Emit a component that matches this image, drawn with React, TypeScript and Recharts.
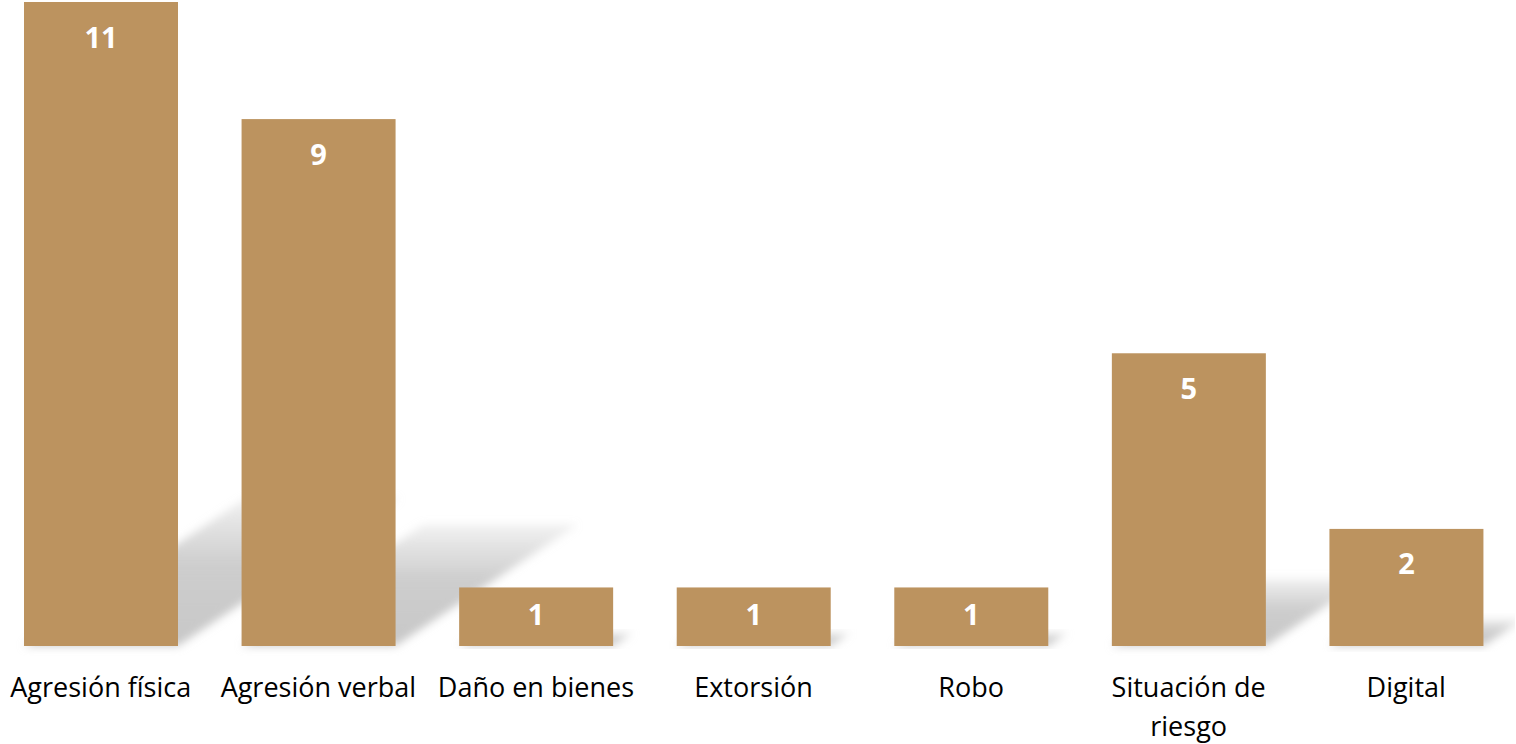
import React from "react";
import { BarChart, Bar, XAxis, YAxis, LabelList } from "recharts";

const categories = [
  "Agresión física",
  "Agresión verbal",
  "Daño en bienes",
  "Extorsión",
  "Robo",
  "Situación de riesgo",
  "Digital",
];
const casos = [11, 9, 1, 1, 1, 5, 2];
// how each category label breaks onto lines
const tickLines: Record<string, string[]> = {
  "Situación de riesgo": ["Situación de", "riesgo"],
};

const data = categories.map((name, i) => ({ name, casos: casos[i] }));

const BAR_COLOR = "#BC935F";
const FONT = "'Open Sans', sans-serif";

// bar plus a soft skewed floor shadow
function ShadowBar(props: any) {
  const { x, y, width, height } = props;
  const base = y + height;
  const dy = height * 0.23;
  const dx = dy * 1.5;
  const pts = [
    [x, base],
    [x + width, base],
    [x + width + dx, base - dy],
    [x + dx, base - dy],
  ]
    .map((p) => p.join(","))
    .join(" ");
  return (
    <g>
      <polygon points={pts} fill="url(#shadowFade)" filter="url(#shadowBlur)" />
      <rect x={x} y={y} width={width} height={height} fill={BAR_COLOR} />
    </g>
  );
}

function ValueLabel(props: any) {
  const { x, y, width, height, value } = props;
  const off = Math.min(34, height / 2 - 3);
  return (
    <text
      x={x + width / 2}
      y={y + off}
      fill="#ffffff"
      textAnchor="middle"
      dominantBaseline="central"
      fontFamily={FONT}
      fontWeight={700}
      fontSize={29}
    >
      {value}
    </text>
  );
}

function CategoryTick(props: any) {
  const { x, y, payload } = props;
  const lines = tickLines[payload.value] ?? [payload.value];
  return (
    <text
      x={x}
      y={y}
      textAnchor="middle"
      fill="#000000"
      fontFamily={FONT}
      fontSize={27}
    >
      {lines.map((line, i) => (
        <tspan key={i} x={x} y={y + 43 + i * 39}>
          {line}
        </tspan>
      ))}
    </text>
  );
}

export default function App() {
  return (
    <div style={{ position: "absolute", left: -8, top: 0, background: "#fff" }}>
      <BarChart
        width={1523}
        height={744}
        data={data}
        margin={{ top: 2, right: 0, bottom: 0, left: 0 }}
        barSize={154}
      >
        <defs>
          <linearGradient id="shadowFade" x1="0" y1="0" x2="0" y2="1">
            <stop offset="0%" stopColor="#c8c8c8" stopOpacity={0.25} />
            <stop offset="45%" stopColor="#c8c8c8" stopOpacity={0.9} />
            <stop offset="100%" stopColor="#c8c8c8" stopOpacity={1} />
          </linearGradient>
          <filter id="shadowBlur" x="-20%" y="-20%" width="140%" height="140%">
            <feGaussianBlur stdDeviation="4" />
          </filter>
        </defs>
        <XAxis
          dataKey="name"
          axisLine={false}
          tickLine={false}
          height={98}
          interval={0}
          tick={<CategoryTick />}
        />
        <YAxis hide domain={[0, 11]} />
        <Bar dataKey="casos" shape={<ShadowBar />} isAnimationActive={false}>
          <LabelList dataKey="casos" content={<ValueLabel />} />
        </Bar>
      </BarChart>
    </div>
  );
}
